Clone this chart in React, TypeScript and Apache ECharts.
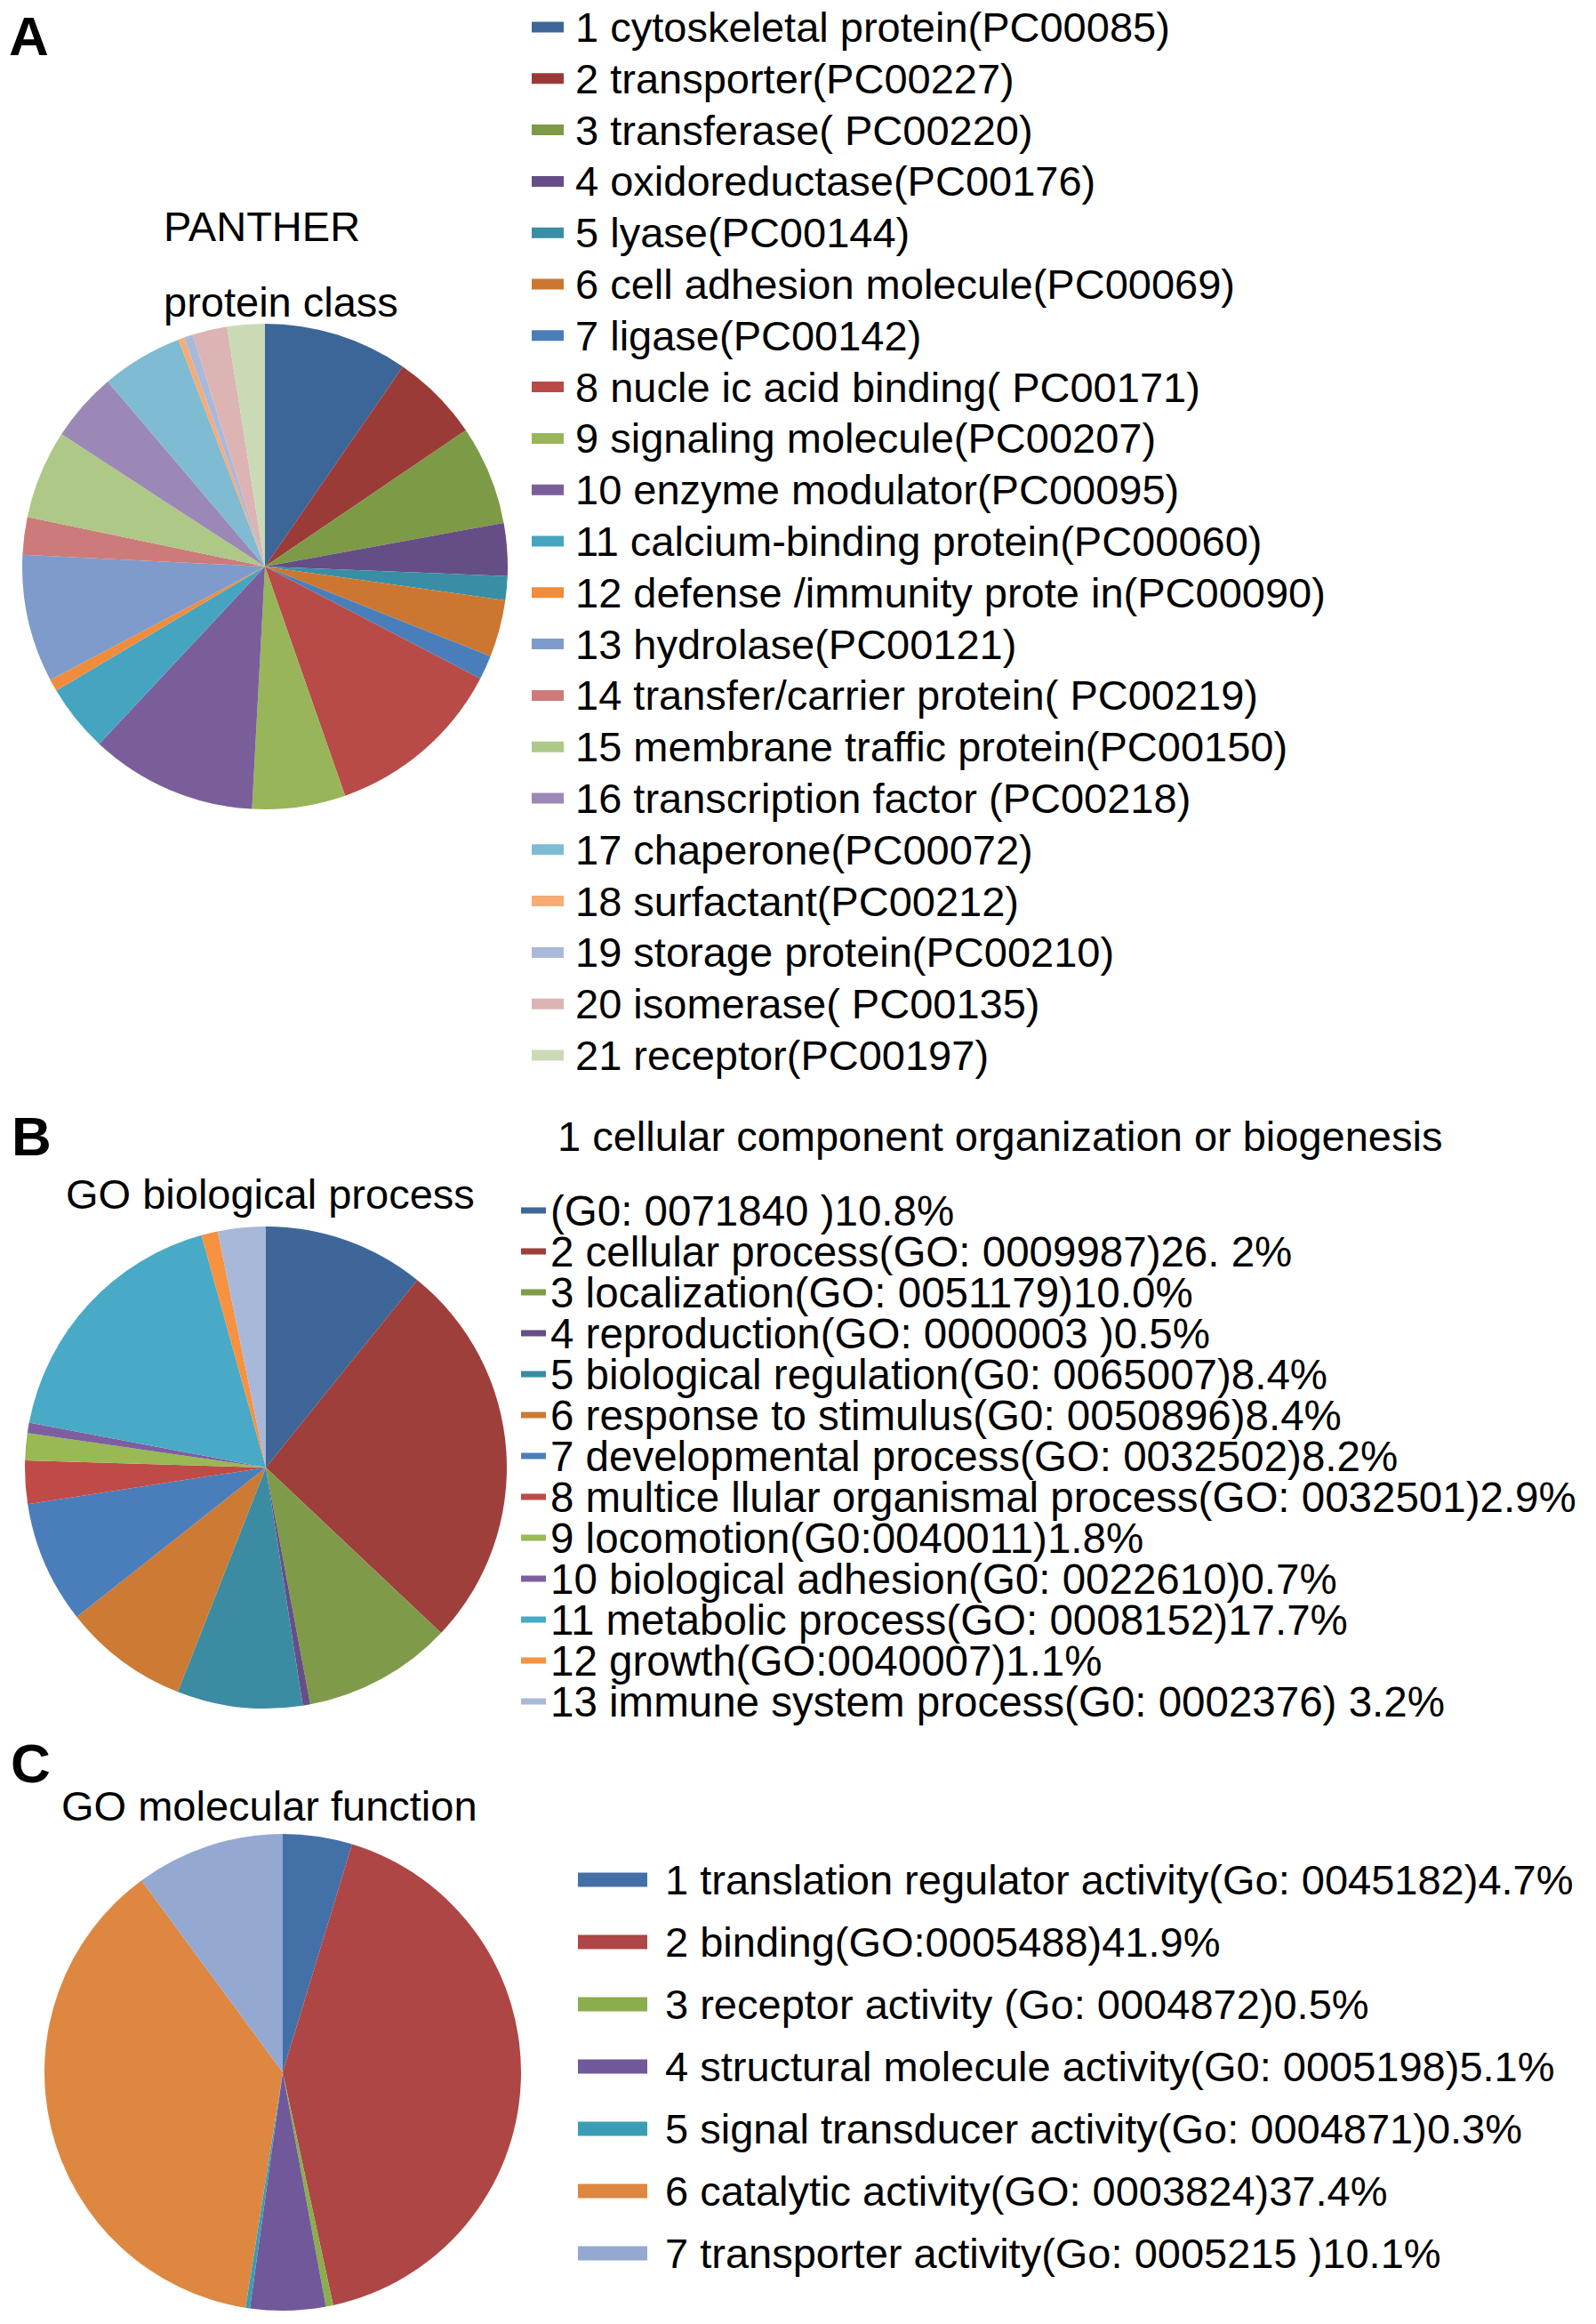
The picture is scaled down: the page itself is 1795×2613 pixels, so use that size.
import React, { useEffect, useRef } from "react";
import * as echarts from "echarts";

const FONT = '"Liberation Sans", Arial, Helvetica, sans-serif';

// ---------- Panel A: PANTHER protein class ----------
const classNamesA = [
  "1 cytoskeletal protein(PC00085)",
  "2 transporter(PC00227)",
  "3 transferase( PC00220)",
  "4 oxidoreductase(PC00176)",
  "5 lyase(PC00144)",
  "6 cell adhesion molecule(PC00069)",
  "7 ligase(PC00142)",
  "8 nucle ic acid binding( PC00171)",
  "9 signaling molecule(PC00207)",
  "10 enzyme modulator(PC00095)",
  "11 calcium-binding protein(PC00060)",
  "12 defense /immunity prote in(PC00090)",
  "13 hydrolase(PC00121)",
  "14 transfer/carrier protein( PC00219)",
  "15 membrane traffic protein(PC00150)",
  "16 transcription factor (PC00218)",
  "17 chaperone(PC00072)",
  "18 surfactant(PC00212)",
  "19 storage protein(PC00210)",
  "20 isomerase( PC00135)",
  "21 receptor(PC00197)",
];
const classValuesA = [
  9.6, 5.9, 6.6, 3.5, 1.6, 3.8, 1.6, 12.0, 6.2, 11.1, 4.5, 0.8, 8.5, 2.5, 5.9,
  4.6, 5.4, 0.4, 0.6, 2.3, 2.5,
];
const classColorsA = [
  "#3D6698", "#9B3B38", "#7D9A47", "#654D86", "#398EA5", "#CB7732",
  "#4A7EBB", "#B84B48", "#98B55A", "#7A5E9A", "#45A5C0", "#F08C3C",
  "#7E9BCB", "#CC7B7A", "#ADC887", "#9C88B6", "#7FBBD3", "#F7AB75",
  "#AAB9DA", "#DCB4B4", "#C9DAB5",
];

// ---------- Panel B: GO biological process ----------
const processHeaderB = "1 cellular component organization or biogenesis";
const processNamesB = [
  "(G0: 0071840 )10.8%",
  "2 cellular process(GO: 0009987)26. 2%",
  "3 localization(GO: 0051179)10.0%",
  "4 reproduction(GO: 0000003 )0.5%",
  "5 biological regulation(G0: 0065007)8.4%",
  "6 response to stimulus(G0: 0050896)8.4%",
  "7 developmental process(GO: 0032502)8.2%",
  "8 multice llular organismal process(GO: 0032501)2.9%",
  "9 locomotion(G0:0040011)1.8%",
  "10 biological adhesion(G0: 0022610)0.7%",
  "11 metabolic process(GO: 0008152)17.7%",
  "12 growth(GO:0040007)1.1%",
  "13 immune system process(G0: 0002376) 3.2%",
];
const processValuesB = [10.8, 26.2, 10.0, 0.5, 8.4, 8.4, 8.2, 2.9, 1.8, 0.7, 17.7, 1.1, 3.2];
const processColorsB = [
  "#3E6698", "#9E3F3B", "#7F9B4A", "#664E87", "#3B8CA2", "#CC7A34",
  "#4A7EBB", "#BE4B48", "#98B954", "#7D5FA0", "#48AAC6", "#F69240",
  "#A8B8D8",
];

// ---------- Panel C: GO molecular function ----------
const functionNamesC = [
  "1 translation regulator activity(Go: 0045182)4.7%",
  "2 binding(GO:0005488)41.9%",
  "3 receptor activity (Go: 0004872)0.5%",
  "4 structural molecule activity(G0: 0005198)5.1%",
  "5 signal transducer activity(Go: 0004871)0.3%",
  "6 catalytic activity(GO: 0003824)37.4%",
  "7 transporter activity(Go: 0005215 )10.1%",
];
const functionValuesC = [4.7, 41.9, 0.5, 5.1, 0.3, 37.4, 10.1];
const functionColorsC = ["#4470A8", "#AD4644", "#8AAE4E", "#70589A", "#3A9DB5", "#DE8740", "#93A9D2"];

const panelLetters = ["A", "B", "C"];
const panelTitles = ["PANTHER", "protein class", "GO biological process", "GO molecular function"];

function pieSeries(center: number[], radius: number, names: string[], values: number[], colors: string[]) {
  return {
    type: "pie",
    center,
    radius,
    startAngle: 90,
    clockwise: true,
    avoidLabelOverlap: false,
    minAngle: 0,
    silent: true,
    label: { show: false },
    labelLine: { show: false },
    emphasis: { disabled: true },
    itemStyle: { borderWidth: 0 },
    data: names.map((n, i) => ({ name: n, value: values[i], itemStyle: { color: colors[i] } })),
  };
}

function legendBlock(
  names: string[],
  left: number,
  top: number,
  iw: number,
  ih: number,
  gap: number,
  pad: number,
  size: number
) {
  return {
    orient: "vertical",
    left,
    top,
    padding: 0,
    itemWidth: iw,
    itemHeight: ih,
    itemGap: gap,
    icon: "rect",
    selectedMode: false,
    data: names,
    textStyle: {
      fontFamily: FONT,
      fontSize: size,
      color: "#000",
      padding: [0, 0, 0, pad],
    },
  };
}

function txt(text: string, x: number, y: number, size: number, bold = false) {
  return {
    type: "text",
    x,
    y,
    silent: true,
    style: {
      text,
      fontFamily: FONT,
      fontSize: size,
      fontWeight: bold ? "bold" : "normal",
      fill: "#000",
      align: "left",
      verticalAlign: "middle",
    },
  };
}

export default function App() {
  const ref = useRef<HTMLDivElement>(null);

  useEffect(() => {
    document.body.style.margin = "0";
    const chart = echarts.init(ref.current as HTMLDivElement, null, { renderer: "svg" });
    chart.setOption({
      animation: false,
      backgroundColor: "#ffffff",
      graphic: [
        txt(panelLetters[0], 10, 40, 62, true),
        txt(panelLetters[1], 13, 1277, 62, true),
        txt(panelLetters[2], 12, 1982, 62, true),
        txt(panelTitles[0], 184, 254, 47),
        txt(panelTitles[1], 184, 339, 47),
        txt(panelTitles[2], 74, 1342, 47),
        txt(panelTitles[3], 69, 2030, 47),
        txt(processHeaderB, 627, 1277, 47),
      ],
      legend: [
        legendBlock(classNamesA, 598, 7, 36, 12, 10.8, 8, 47),
        legendBlock(processNamesB, 586, 1337, 28, 7, -2, 0, 47.5),
        legendBlock(functionNamesC, 650, 2090, 78, 16, 23, 15, 47),
      ],
      series: [
        pieSeries([298, 637], 273, classNamesA, classValuesA, classColorsA),
        pieSeries([299, 1650], 271, processNamesB, processValuesB, processColorsB),
        pieSeries([318, 2330], 268, functionNamesC, functionValuesC, functionColorsC),
      ],
    });
    return () => {
      chart.dispose();
    };
  }, []);

  return <div ref={ref} style={{ width: 1795, height: 2613 }} />;
}
